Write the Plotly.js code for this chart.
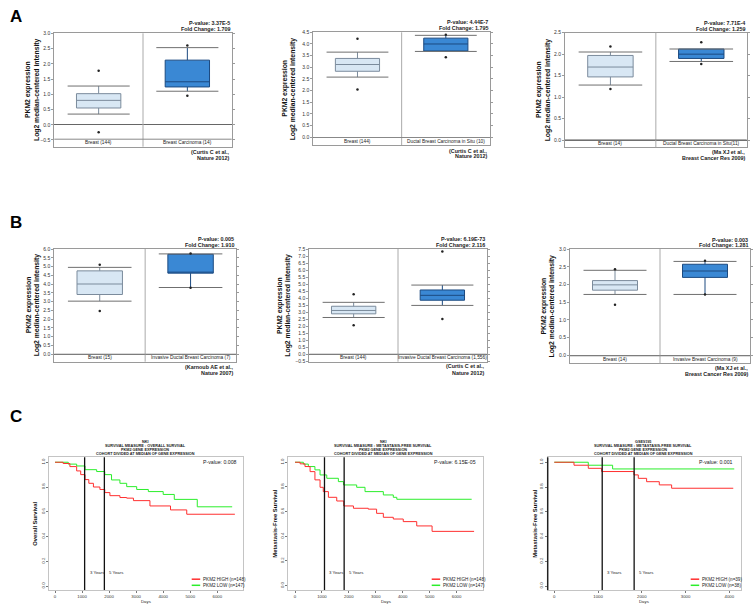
<!DOCTYPE html>
<html><head><meta charset="utf-8">
<script src="https://cdn.plot.ly/plotly-3.0.1.min.js"></script>
<style>html,body{margin:0;padding:0;background:#fff}#chart{width:753px;height:604px}</style>
</head><body><div id="chart"></div>
<script>
// ---------- DATA: box plots (panels A1, A2, A3, B1, B2, B3) ----------
const boxCategories = [
  ['Breast (144)', 'Breast Carcinoma (14)'],
  ['Breast (144)', 'Ductal Breast Carcinoma in Situ (10)'],
  ['Breast (14)', 'Ductal Breast Carcinoma in Situ(11)'],
  ['Breast (15)', 'Invasive Ductal Breast Carcinoma (7)'],
  ['Breast (144)', 'Invasive Ductal Breast Carcinoma (1,556)'],
  ['Breast (14)', 'Invasive Breast Carcinoma (9)']
];
const boxQ1 = [[0.55, 1.24], [2.83, 3.70], [1.47, 1.90], [3.40, 4.62], [2.88, 3.85], [1.84, 2.20]];
const boxMedian = [[0.80, 1.41], [3.12, 4.00], [1.70, 2.00], [4.00, 4.66], [3.12, 4.20], [1.99, 2.38]];
const boxQ3 = [[1.02, 2.12], [3.38, 4.25], [1.97, 2.12], [4.75, 5.70], [3.42, 4.58], [2.11, 2.57]];
const boxLowWhisker = [[0.35, 1.10], [2.58, 3.68], [1.28, 1.83], [3.02, 3.80], [2.62, 3.48], [1.72, 1.72]];
const boxHighWhisker = [[1.27, 2.53], [3.65, 4.37], [2.05, 2.12], [4.95, 5.72], [3.70, 4.93], [2.40, 2.65]];
const boxOutliers = [
  [[1.77, -0.25], [2.60, 0.95]],
  [[4.22, 2.05], [4.40, 3.43]],
  [[2.18, 1.19], [2.28, 1.77]],
  [[5.10, 2.45], [5.75, 3.78]],
  [[4.27, 2.07], [7.32, 2.52]],
  [[2.43, 1.43], [2.67, 1.72]]
];
const pValues = ['3.37E-5', '4.44E-7', '7.71E-4', '0.005', '6.19E-73', '0.003'];
const foldChanges = ['1.709', '1.795', '1.259', '1.910', '2.116', '1.281'];
const citations = [
  ['(Curtis C et al.,', 'Nature 2012)'],
  ['(Curtis C et al.,', 'Nature 2012)'],
  ['(Ma XJ et al.,', 'Breast Cancer Res 2009)'],
  ['(Karnoub AE et al.,', 'Nature 2007)'],
  ['(Curtis C et al.,', 'Nature 2012)'],
  ['(Ma XJ et al.,', 'Breast Cancer Res 2009)']
];
const boxYTitle = ['PKM2 expression', 'Log2 median-centered intensity'];

// ---------- DATA: Kaplan-Meier panels (C1, C2, C3) ----------
const c1HighDays = [0, 300, 550, 800, 950, 1110, 1250, 1420, 1660, 1840, 2030, 2400, 2650, 2900, 3510, 4270, 4870, 6650];
const c1HighSurv = [1.0, 0.99, 0.965, 0.93, 0.90, 0.86, 0.83, 0.80, 0.78, 0.755, 0.73, 0.715, 0.71, 0.69, 0.647, 0.615, 0.58, 0.58];
const c1LowDays = [0, 490, 800, 1110, 1540, 1840, 2090, 2400, 2650, 3020, 3450, 4000, 4410, 5260, 6550];
const c1LowSurv = [1.0, 0.985, 0.97, 0.94, 0.925, 0.90, 0.857, 0.83, 0.803, 0.78, 0.763, 0.74, 0.70, 0.64, 0.64];
const c2HighDays = [0, 190, 370, 560, 740, 930, 1050, 1240, 1550, 1810, 2170, 2720, 3030, 3280, 3650, 4020, 4520, 5090, 6650];
const c2HighSurv = [1.0, 0.987, 0.965, 0.924, 0.857, 0.797, 0.762, 0.716, 0.686, 0.646, 0.627, 0.62, 0.586, 0.554, 0.54, 0.519, 0.484, 0.44, 0.44];
const c2LowDays = [0, 310, 495, 740, 930, 1180, 1610, 1800, 2290, 2600, 3280, 3650, 3780, 6560];
const c2LowSurv = [1.0, 0.985, 0.965, 0.938, 0.897, 0.87, 0.843, 0.816, 0.797, 0.762, 0.735, 0.716, 0.70, 0.70];
const c3HighDays = [0, 450, 777, 1082, 1821, 1920, 2110, 2400, 2682, 4091];
const c3HighSurv = [1.0, 0.976, 0.951, 0.925, 0.898, 0.87, 0.843, 0.817, 0.79, 0.79];
const c3LowDays = [0, 777, 1333, 4114];
const c3LowSurv = [1.0, 0.976, 0.946, 0.946];
const kmTitles = [
  ['NKI', 'SURVIVAL MEASURE : OVERALL SURVIVAL', 'PKM2 GENE EXPRESSION', 'COHORT DIVIDED AT MEDIAN OF GENE EXPRESSION'],
  ['NKI', 'SURVIVAL MEASURE : METASTASIS-FREE SURVIVAL', 'PKM2 GENE EXPRESSION', 'COHORT DIVIDED AT MEDIAN OF GENE EXPRESSION'],
  ['GSE9195', 'SURVIVAL MEASURE : METASTASIS-FREE SURVIVAL', 'PKM2 GENE EXPRESSION', 'COHORT DIVIDED AT MEDIAN OF GENE EXPRESSION']
];
const kmPValues = ['0.008', '6.15E-05', '0.001'];
const kmYTitles = ['Overall Survival', 'Metastasis-Free Survival', 'Metastasis-Free Survival'];
const kmHighLabels = ['PKM2 HIGH (n=148)', 'PKM2 HIGH (n=148)', 'PKM2 HIGH (n=39)'];
const kmLowLabels = ['PKM2 LOW (n=147)', 'PKM2 LOW (n=147)', 'PKM2 LOW (n=38)'];
const yearMarkDays = [1095, 1825];
const yearMarkLabels = ['3 Years', '5 Years'];
const panelLetters = ['A', 'B', 'C'];

// ---------- LAYOUT GEOMETRY (pixels) ----------
const W = 753, H = 604;
const FONT = 'Arial, "Liberation Sans", sans-serif';
const boxGeom = [
  {x0: 54.3, x1: 231.7, y0: 33.3, y1: 146.7, yr: [-0.72, 3.0], tl: [28, 37], pv: [23, 28.7], ct: [152, 157.8]},
  {x0: 313.3, x1: 490, y0: 32.3, y1: 145, yr: [-0.33, 4.5], tl: [285, 292.7], pv: [22.3, 27.7], ct: [150.5, 156.3]},
  {x0: 565, x1: 746.7, y0: 32.7, y1: 147.3, yr: [-0.17, 2.5], tl: [539, 548.3], pv: [23, 28.7], ct: [151.5, 157.5]},
  {x0: 54.3, x1: 236, y0: 249, y1: 361.7, yr: [-0.44, 6.0], tl: [29, 37], pv: [239.3, 244.5], ct: [366.7, 373]},
  {x0: 309.3, x1: 486.7, y0: 249, y1: 361.7, yr: [-0.53, 7.5], tl: [280.7, 288.3], pv: [239.3, 244.5], ct: [366.3, 373]},
  {x0: 570, x1: 750, y0: 249, y1: 363.3, yr: [-0.22, 3.0], tl: [544.3, 552.3], pv: [240, 245], ct: [368.3, 374.3]}
];
const kmGeom = [
  {x0: 49.3, x1: 242.7, y0: 457.3, y1: 590, xr: [-211, 6939], yr: [-0.032, 1.040], tx: 145, yt: 35, leg: 191.7, pvx: 238.5},
  {x0: 288.3, x1: 483.3, y0: 457.3, y1: 590, xr: [-249, 6992], yr: [-0.035, 1.040], tx: 383, yt: 275, leg: 431.7, pvx: 477.7},
  {x0: 547.7, x1: 740.7, y0: 457.3, y1: 590, xr: [-151, 4261], yr: [-0.032, 1.040], tx: 643, yt: 535, leg: 690.7, pvx: 735}
];
const kmData = [
  [c1HighDays, c1HighSurv, c1LowDays, c1LowSurv],
  [c2HighDays, c2HighSurv, c2LowDays, c2LowSurv],
  [c3HighDays, c3HighSurv, c3LowDays, c3LowSurv]
];

const px = p => p / W;
const py = p => 1 - p / H;
const traces = [];
const annotations = [];
const shapes = [];
const layout = {
  width: W, height: H, margin: {l: 0, r: 0, t: 0, b: 0},
  paper_bgcolor: '#fff', plot_bgcolor: '#fff',
  font: {family: FONT, color: '#222'}, showlegend: false
};
function ann(x, y, text, o) {
  annotations.push(Object.assign({
    x: px(x), y: py(y), xref: 'paper', yref: 'paper', text: text, showarrow: false,
    xanchor: 'center', yanchor: 'middle', font: {family: FONT, size: 5, color: '#222'}
  }, o || {}));
}

// ---------- box panels ----------
const lightFill = '#d8e7f4', lightLine = '#7b8b9c';
const darkFill = '#3a88d4', darkLine = '#1c4a80';
const BOXW = 0.5, CAPW = 0.7;
boxGeom.forEach((g, i) => {
  const n = i + 1, xa = 'x' + (n === 1 ? '' : n), ya = 'y' + (n === 1 ? '' : n);
  const xk = 'xaxis' + (n === 1 ? '' : n), yk = 'yaxis' + (n === 1 ? '' : n);
  layout[xk] = {domain: [px(g.x0), px(g.x1)], range: [-0.5, 1.5], anchor: ya, showticklabels: false, ticks: '',
    showgrid: false, zeroline: false, showline: true, mirror: true, linecolor: '#9a9a9a', linewidth: 1, fixedrange: true};
  layout[yk] = {domain: [py(g.y1), py(g.y0)], range: g.yr, anchor: xa, dtick: 0.5, tickformat: '.1f',
    ticks: 'outside', ticklen: 2, tickcolor: '#9a9a9a', tickfont: {family: FONT, size: 5, color: '#333'},
    showline: true, mirror: 'ticks', linecolor: '#9a9a9a', linewidth: 1, showgrid: false,
    zeroline: true, zerolinecolor: '#666', zerolinewidth: 1, fixedrange: true};
  shapes.push({type: 'line', xref: xa, yref: ya + ' domain', x0: 0.5, x1: 0.5, y0: 0, y1: 1, line: {color: '#aaa', width: 1}});
  const bandFrac = 7.5 / (g.y1 - g.y0);
  shapes.push({type: 'line', xref: xa + ' domain', yref: ya + ' domain', x0: 0, x1: 1, y0: bandFrac, y1: bandFrac, line: {color: '#888', width: 1}});
  [0, 1].forEach(k => {
    traces.push({type: 'box', orientation: 'v', x: [k], q1: [boxQ1[i][k]], median: [boxMedian[i][k]], q3: [boxQ3[i][k]],
      lowerfence: [boxLowWhisker[i][k]], upperfence: [boxHighWhisker[i][k]], width: BOXW, whiskerwidth: 0,
      boxpoints: false, fillcolor: k === 0 ? lightFill : darkFill,
      line: {color: k === 0 ? lightLine : darkLine, width: 1}, xaxis: xa, yaxis: ya, hoverinfo: 'skip', showlegend: false});
    traces.push({type: 'scatter', mode: 'lines', x: [k - CAPW / 2, k + CAPW / 2, null, k - CAPW / 2, k + CAPW / 2],
      y: [boxLowWhisker[i][k], boxLowWhisker[i][k], null, boxHighWhisker[i][k], boxHighWhisker[i][k]],
      line: {color: '#6f6f6f', width: 1}, xaxis: xa, yaxis: ya, hoverinfo: 'skip', showlegend: false});
    traces.push({type: 'scatter', mode: 'markers', x: boxOutliers[i][k].map(() => k), y: boxOutliers[i][k],
      marker: {color: '#222', size: 2.5}, xaxis: xa, yaxis: ya, hoverinfo: 'skip', showlegend: false});
    annotations.push({x: k, y: bandFrac / 2, xref: xa, yref: ya + ' domain', text: boxCategories[i][k], showarrow: false,
      xanchor: 'center', yanchor: 'middle', font: {family: FONT, size: 4.8, color: '#222'}});
  });
  const cy = (g.y0 + g.y1) / 2;
  ann(g.tl[0], cy, '<b>' + boxYTitle[0] + '</b>', {textangle: -90, font: {family: FONT, size: 6.8, color: '#111'}});
  ann(g.tl[1], cy, '<b>' + boxYTitle[1] + '</b>', {textangle: -90, font: {family: FONT, size: 6.8, color: '#111'}});
  ann(g.x1, g.pv[0], '<b>P-value: ' + pValues[i] + '</b>', {xanchor: 'right', font: {family: FONT, size: 5.4, color: '#222'}});
  ann(g.x1, g.pv[1], '<b>Fold Change: ' + foldChanges[i] + '</b>', {xanchor: 'right', font: {family: FONT, size: 5.4, color: '#222'}});
  ann(g.x1, g.ct[0], '<b>' + citations[i][0] + '</b>', {xanchor: 'right', font: {family: FONT, size: 5.4, color: '#222'}});
  ann(g.x1, g.ct[1], '<b>' + citations[i][1] + '</b>', {xanchor: 'right', font: {family: FONT, size: 5.4, color: '#222'}});
});

// ---------- KM panels ----------
const RED = '#ff2f2f', GREEN = '#2bee2b';
kmGeom.forEach((g, j) => {
  const n = 7 + j, xa = 'x' + n, ya = 'y' + n;
  layout['xaxis' + n] = {domain: [px(g.x0), px(g.x1)], range: g.xr, anchor: ya, dtick: 1000, ticks: 'outside', ticklen: 2,
    tickcolor: '#777', tickfont: {family: FONT, size: 4.3, color: '#333'}, showline: true, mirror: true,
    linecolor: '#c4c4c4', linewidth: 1, showgrid: false, zeroline: false, fixedrange: true};
  layout['yaxis' + n] = {domain: [py(g.y1), py(g.y0)], range: g.yr, anchor: xa, dtick: 0.2, tickformat: '.1f', tickangle: -90,
    ticks: 'outside', ticklen: 2, tickcolor: '#777', tickfont: {family: FONT, size: 4.3, color: '#333'},
    showline: true, mirror: true, linecolor: '#c4c4c4', linewidth: 1,
    showgrid: false, zeroline: false, fixedrange: true};
  if (j === 2) shapes.push({type: 'line', xref: xa + ' domain', yref: ya + ' domain', x0: 0, x1: 0, y0: 0, y1: 1, line: {color: '#222', width: 1.5}});
  yearMarkDays.forEach((d, k) => {
    shapes.push({type: 'line', xref: xa, yref: ya + ' domain', x0: d, x1: d, y0: 0, y1: 1, line: {color: '#111', width: 1.3}});
    annotations.push({x: d, y: 0.108, xref: xa, yref: ya, text: yearMarkLabels[k], showarrow: false, xanchor: 'left',
      xshift: 3, yanchor: 'middle', font: {family: FONT, size: 4.3, color: '#222'}});
  });
  const dd = kmData[j];
  traces.push({type: 'scatter', mode: 'lines', x: dd[2], y: dd[3], line: {shape: 'hv', color: GREEN, width: 1},
    xaxis: xa, yaxis: ya, hoverinfo: 'skip', showlegend: false});
  traces.push({type: 'scatter', mode: 'lines', x: dd[0], y: dd[1], line: {shape: 'hv', color: RED, width: 1},
    xaxis: xa, yaxis: ya, hoverinfo: 'skip', showlegend: false});
  const ty = [441.7, 445.8, 449.9, 454];
  kmTitles[j].forEach((t, k) => ann(g.tx, ty[k], '<b>' + t + '</b>', {font: {family: FONT, size: 3.8, color: '#222'}}));
  ann(g.pvx, 462.3, 'P-value: ' + kmPValues[j], {xanchor: 'right', font: {family: FONT, size: 5.2, color: '#222'}});
  ann(g.yt, (g.y0 + g.y1) / 2, '<b>' + kmYTitles[j] + '</b>', {textangle: -90, font: {family: FONT, size: 5.8, color: '#111'}});
  ann((g.x0 + g.x1) / 2, 601.5, 'Days', {font: {family: FONT, size: 4.3, color: '#222'}});
  shapes.push({type: 'line', xref: 'paper', yref: 'paper', x0: px(g.leg), x1: px(g.leg + 8.5), y0: py(579.2), y1: py(579.2), line: {color: RED, width: 1.5}});
  shapes.push({type: 'line', xref: 'paper', yref: 'paper', x0: px(g.leg), x1: px(g.leg + 8.5), y0: py(585.3), y1: py(585.3), line: {color: GREEN, width: 1.5}});
  ann(g.leg + 9.5, 579.2, kmHighLabels[j], {xanchor: 'left', font: {family: FONT, size: 4.6, color: '#222'}});
  ann(g.leg + 9.5, 585.3, kmLowLabels[j], {xanchor: 'left', font: {family: FONT, size: 4.6, color: '#222'}});
});

const letterY = [16.5, 222.5, 416];
panelLetters.forEach((L, i) => ann(16, letterY[i], '<b>' + L + '</b>', {font: {family: FONT, size: 17, color: '#000'}}));

layout.annotations = annotations;
layout.shapes = shapes;
Plotly.newPlot('chart', traces, layout, {staticPlot: true, displayModeBar: false});
</script>
</body></html>
